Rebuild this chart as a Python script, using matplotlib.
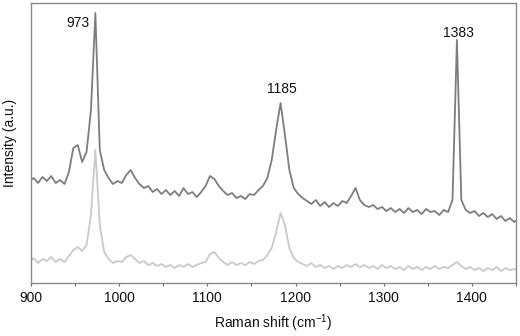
import numpy as np
import matplotlib
matplotlib.use("Agg")
import matplotlib.pyplot as plt
from matplotlib.ticker import MultipleLocator

plt.rcParams['font.family'] = ['Liberation Sans', 'DejaVu Sans']
plt.rcParams['mathtext.fontset'] = 'custom'
plt.rcParams['mathtext.rm'] = 'Liberation Sans'

# Raman shift grid (cm-1), 5 cm-1 steps
raman_shift = np.arange(898, 1454, 5)

# upper spectrum (dark trace), arbitrary units
spec_top = [102, 105, 100, 106, 102, 107, 100, 103, 99, 111,
            135, 138, 121, 131, 173, 270, 133, 113, 105, 99,
            102, 100, 108, 113, 105, 99, 95, 97, 91, 94,
            89, 93, 88, 92, 87, 95, 89, 91, 86, 91,
            97, 107, 104, 97, 92, 88, 90, 85, 87, 84,
            89, 88, 93, 97, 105, 123, 153, 180, 148, 113,
            95, 89, 85, 82, 79, 83, 77, 81, 76, 80,
            77, 82, 80, 87, 95, 83, 78, 76, 78, 74,
            76, 72, 75, 71, 74, 70, 75, 71, 73, 69,
            74, 71, 72, 68, 73, 71, 83, 243, 83, 73,
            70, 72, 67, 70, 66, 69, 64, 67, 62, 65,
            61, 64]

# lower spectrum (light trace)
spec_bottom = [21, 25, 20, 24, 22, 26, 21, 24, 21, 27,
               33, 36, 32, 38, 68, 133, 58, 31, 24, 20,
               22, 21, 26, 28, 24, 20, 22, 18, 20, 17,
               19, 16, 18, 15, 18, 16, 19, 16, 18, 20,
               21, 29, 31, 25, 21, 18, 21, 18, 20, 18,
               21, 19, 22, 23, 28, 35, 51, 70, 58, 35,
               25, 21, 19, 17, 20, 16, 18, 15, 17, 14,
               17, 15, 18, 16, 19, 16, 18, 15, 17, 14,
               18, 15, 17, 14, 16, 13, 17, 14, 16, 13,
               16, 14, 17, 14, 16, 15, 18, 21, 17, 14,
               16, 13, 15, 12, 15, 13, 16, 12, 15, 13,
               14, 12]

peak_labels = ['973', '1185', '1383']
label_x = [953, 1184, 1385]
label_y = [260, 194, 250]

fig = plt.figure(figsize=(5.2, 3.36), dpi=100)
ax = fig.add_axes([0.0596, 0.1577, 0.9327, 0.8333])

ax.plot(raman_shift, spec_bottom, color='#c9c9c9', lw=1.3)
ax.plot(raman_shift, spec_top, color='#7d7d7d', lw=1.3)

for lab, lx, ly in zip(peak_labels, label_x, label_y):
    ax.text(lx, ly, lab, ha='center', va='center', fontsize=10, color='#111111')

ax.set_xlim(900, 1450)
ax.set_ylim(0, 280)
ax.xaxis.set_major_locator(MultipleLocator(100))
ax.xaxis.set_minor_locator(MultipleLocator(50))
ax.set_yticks([])
ax.tick_params(axis='x', which='major', direction='out', length=2.5, width=0.8,
               color='#666666', labelsize=10, pad=3.5, labelcolor='#111111')
ax.tick_params(axis='x', which='minor', direction='out', length=1.8, width=0.8,
               color='#666666')

for s in ax.spines.values():
    s.set_color('#8a8a8a')
    s.set_linewidth(1.0)

ax.set_xlabel('Raman shift (cm$^{-1}$)', fontsize=10, color='#111111', labelpad=5)
ax.set_ylabel('Intensity (a.u.)', fontsize=10, color='#111111')
ax.yaxis.set_label_coords(-0.028, 0.5)

fig.savefig('out.png', dpi=100)
